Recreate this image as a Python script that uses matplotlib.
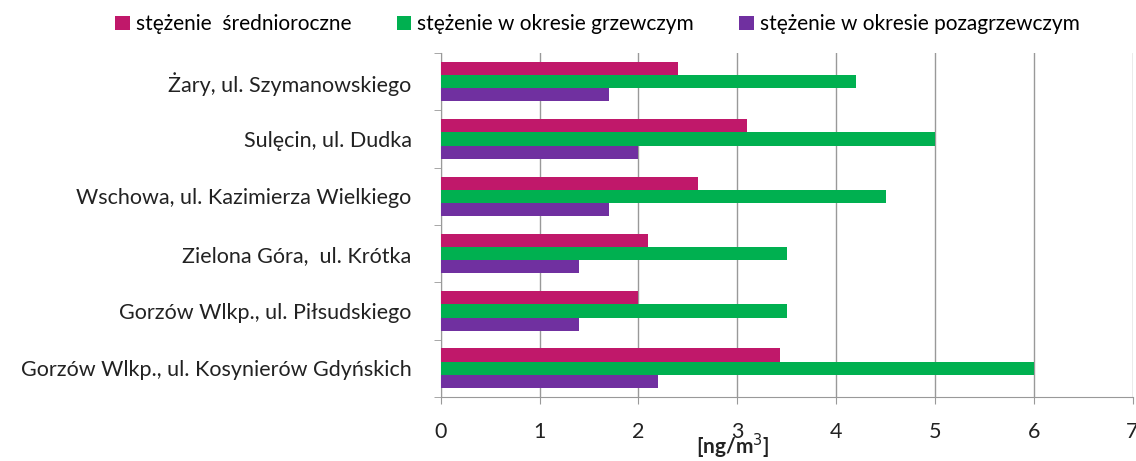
import numpy as np
import matplotlib.pyplot as plt

plt.rcParams['font.family'] = ['Lato', 'DejaVu Sans']

stacje = ["Żary, ul. Szymanowskiego",
          "Sulęcin, ul. Dudka",
          "Wschowa, ul. Kazimierza Wielkiego",
          "Zielona Góra,  ul. Krótka",
          "Gorzów Wlkp., ul. Piłsudskiego",
          "Gorzów Wlkp., ul. Kosynierów Gdyńskich"]
srednioroczne = [2.4, 3.1, 2.6, 2.1, 2.0, 3.43]
grzewczy = [4.2, 5.0, 4.5, 3.5, 3.5, 6.0]
pozagrzewczy = [1.7, 2.0, 1.7, 1.4, 1.4, 2.2]

serie = [("stężenie  średnioroczne", srednioroczne, "#C0186A"),
         ("stężenie w okresie grzewczym", grzewczy, "#00B050"),
         ("stężenie w okresie pozagrzewczym", pozagrzewczy, "#7030A0")]

fig = plt.figure(figsize=(11.36, 4.61), dpi=100)
ax = fig.add_axes([0.388, 0.139, 0.609, 0.746])

n = len(stacje)
y = np.arange(n)[::-1]
h = 0.23
for i, (nazwa, wart, kolor) in enumerate(serie):
    ax.barh(y + (1 - i) * h, wart, height=h, color=kolor, label=nazwa, zorder=3)

ax.set_xlim(0, 7)
ax.set_ylim(-0.5, n - 0.5)
ax.set_xticks(range(8))
ax.set_yticks(y)
ax.set_yticklabels(stacje, fontsize=15.5, color="#222222")
ax.set_yticks(np.arange(n + 1) - 0.5, minor=True)
ax.tick_params(axis="y", which="major", length=0, pad=21)
ax.tick_params(axis="y", which="minor", length=5, color="#999999")
ax.tick_params(axis="x", length=5, color="#999999", labelsize=15.5, pad=13, labelcolor="#222222")
ax.grid(axis="x", color="#999999", linewidth=1, zorder=0)
for s in ["top", "right"]:
    ax.spines[s].set_visible(False)
for s in ["left", "bottom"]:
    ax.spines[s].set_color("#999999")

fig.text(733 / 1136, 0.0, "[ng/m$^3$]", ha="center", va="bottom", fontsize=15, fontweight="bold", color="#222222")

fig.legend(loc="upper center", bbox_to_anchor=(0.526, 1.01), ncol=3, frameon=False,
           fontsize=15, handlelength=0.7, handleheight=0.7, handletextpad=0.3, columnspacing=2.15)

fig.savefig("out.png", dpi=100)
